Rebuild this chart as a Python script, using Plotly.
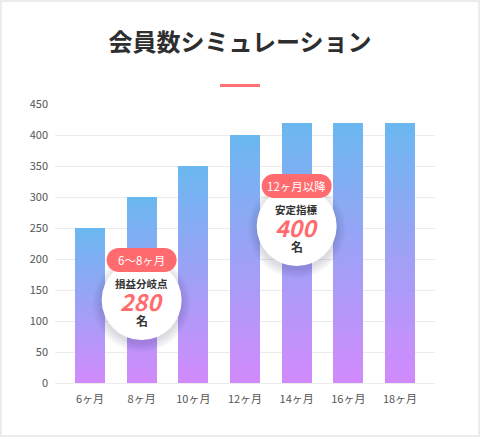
import plotly.graph_objects as go

# ---- data ----
categories = ["6ヶ月", "8ヶ月", "10ヶ月", "12ヶ月", "14ヶ月", "16ヶ月", "18ヶ月"]
members = [250, 300, 350, 400, 420, 420, 420]
y_tick_values = [0, 50, 100, 150, 200, 250, 300, 350, 400, 450]
title_text = "会員数シミュレーション"

callout_tags = ["6～8ヶ月", "12ヶ月以降"]
callout_labels = ["損益分岐点", "安定指標"]
callout_values = ["280", "400"]
callout_units = ["名", "名"]
callout_categories = ["8ヶ月", "14ヶ月"]

# ---- style / layout constants ----
W, H = 480, 437
ML, MR, MT, MB = 55, 45, 104, 54
PLOT_W = W - ML - MR
PLOT_H = H - MT - MB
FONT = "Noto Sans CJK JP"
TOP_COLOR = (106, 184, 240)
BOTTOM_COLOR = (210, 138, 252)
ACCENT = "#ff6b6e"
N_SEG = 60
X_RANGE = [-0.677, 6.677]
Y_RANGE = [0, 450]


def px_to_paper_x(px):
    return (px - ML) / PLOT_W


def px_to_paper_y(py):
    return (H - MB - py) / PLOT_H


def py_to_data(py):
    return Y_RANGE[0] + (H - MB - py) / PLOT_H * (Y_RANGE[1] - Y_RANGE[0])


def mix(t):
    c = [round(BOTTOM_COLOR[k] + (TOP_COLOR[k] - BOTTOM_COLOR[k]) * t) for k in range(3)]
    return "rgb(%d,%d,%d)" % tuple(c)


fig = go.Figure()

# gradient bars: each bar split into N_SEG stacked slices of its own value
for i in range(N_SEG):
    t = (i + 0.5) / N_SEG
    fig.add_trace(go.Bar(
        x=categories,
        y=[v / N_SEG for v in members],
        width=0.58,
        marker=dict(color=mix(t), line=dict(width=0)),
        hoverinfo="skip",
        showlegend=False,
    ))

shapes = []
annotations = []

# outer frame
shapes.append(dict(type="rect", xref="paper", yref="paper",
                   x0=px_to_paper_x(1), x1=px_to_paper_x(479),
                   y0=px_to_paper_y(436), y1=px_to_paper_y(1),
                   line=dict(color="#ececec", width=2), fillcolor="rgba(0,0,0,0)",
                   layer="below"))

# red underline under title
shapes.append(dict(type="line", xref="paper", yref="paper",
                   x0=px_to_paper_x(220), x1=px_to_paper_x(260),
                   y0=px_to_paper_y(85.5), y1=px_to_paper_y(85.5),
                   line=dict(color="#ff7173", width=3)))

callout_center_py = [300, 226]
R = 40
pill_path = ("M -23,-12 L 23,-12 C 29.6,-12 35,-6.6 35,0 C 35,6.6 29.6,12 23,12 "
             "L -23,12 C -29.6,12 -35,6.6 -35,0 C -35,-6.6 -29.6,-12 -23,-12 Z")

for k in range(len(callout_tags)):
    cx = callout_categories[k]
    cy = py_to_data(callout_center_py[k])
    # soft shadow
    for s in range(7):
        rr = R + 1 + s * 1.3
        shapes.append(dict(type="circle", xref="x", yref="y",
                           xsizemode="pixel", ysizemode="pixel",
                           xanchor=categories.index(cx), yanchor=cy,
                           x0=-rr, x1=rr, y0=-rr - 3, y1=rr - 3,
                           fillcolor="rgba(60,60,90,0.022)", line=dict(width=0)))
    shapes.append(dict(type="circle", xref="x", yref="y",
                       xsizemode="pixel", ysizemode="pixel",
                       xanchor=categories.index(cx), yanchor=cy,
                       x0=-R, x1=R, y0=-R, y1=R,
                       fillcolor="white", line=dict(width=0)))
    shapes.append(dict(type="path", xref="x", yref="y",
                       xsizemode="pixel", ysizemode="pixel",
                       xanchor=categories.index(cx), yanchor=py_to_data(callout_center_py[k] - R),
                       path=pill_path, fillcolor=ACCENT, line=dict(width=0)))
    annotations.append(dict(x=cx, y=py_to_data(callout_center_py[k] - R), xref="x", yref="y",
                            text=callout_tags[k], showarrow=False,
                            font=dict(family=FONT, size=11.5, color="white")))
    annotations.append(dict(x=cx, y=cy, yshift=17, xref="x", yref="y",
                            text=callout_labels[k], showarrow=False, borderpad=0,
                            font=dict(family=FONT, size=10.5, color="#333333", weight="bold")))
    annotations.append(dict(x=cx, y=cy, yshift=-1, xref="x", yref="y",
                            text="<i>" + callout_values[k] + "</i>", showarrow=False, borderpad=0,
                            font=dict(family=FONT, size=23, color=ACCENT, weight="bold")))
    annotations.append(dict(x=cx, y=cy, yshift=-20, xref="x", yref="y",
                            text=callout_units[k], showarrow=False, borderpad=0,
                            font=dict(family=FONT, size=12, color="#333333", weight="bold")))

fig.update_layout(
    width=W, height=H,
    margin=dict(l=ML, r=MR, t=MT, b=MB, pad=0),
    paper_bgcolor="white", plot_bgcolor="white",
    barmode="stack",
    showlegend=False,
    title=dict(text=title_text, xref="container", yref="container",
               x=0.5, xanchor="center", y=1 - 43 / H, yanchor="middle",
               font=dict(family=FONT, size=24, color="#2e2e2e", weight="bold")),
    xaxis=dict(type="category", range=X_RANGE, showgrid=False, zeroline=False,
               showline=False, ticks="", ticklabelstandoff=8,
               tickfont=dict(family=FONT, size=11, color="#555555"), fixedrange=True),
    yaxis=dict(range=Y_RANGE, tickvals=y_tick_values, showgrid=True,
               gridcolor="#ebebeb", gridwidth=1, zeroline=True, zerolinecolor="#ebebeb",
               zerolinewidth=1, showline=False, ticks="", ticklabelstandoff=6,
               tickfont=dict(family=FONT, size=11, color="#555555"), fixedrange=True),
    shapes=shapes,
    annotations=annotations,
)

fig.write_html("out.html", config={"displayModeBar": False},
               post_script="document.body.style.margin='0';document.body.style.overflow='hidden';")
